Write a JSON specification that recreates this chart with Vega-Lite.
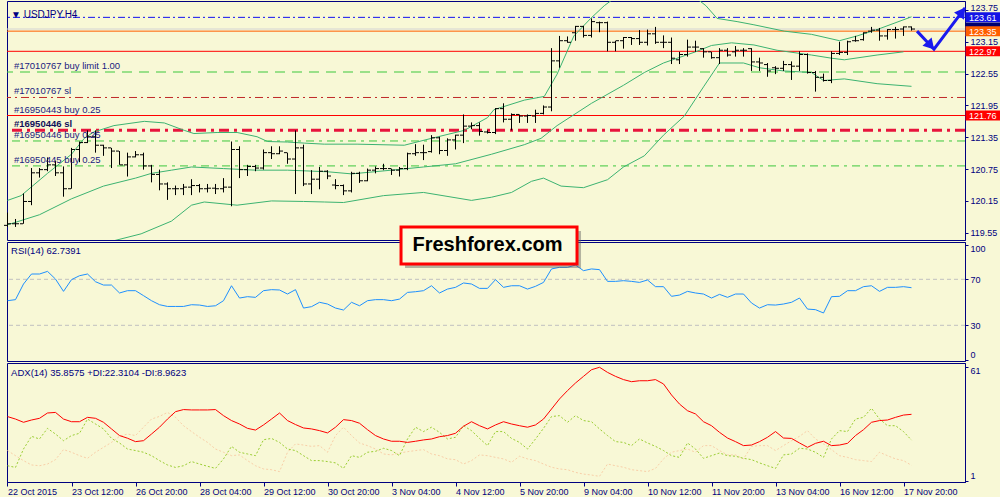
{
"$schema":"https://vega.github.io/schema/vega-lite/v6.json",
"background":"#f8f8d6",
"padding":{"left":3,"top":0,"right":0,"bottom":0},
"spacing":2,
"bounds":"flush",
"config":{
 "view":{"stroke":"#000080","strokeWidth":1},
 "font":"Liberation Sans",
 "axis":{"labelFont":"Liberation Sans","labelFontSize":9,"labelColor":"#000080","tickColor":"#000080","domainColor":"#000080","grid":false,"tickSize":3,"labelPadding":2}
},
"datasets":{
"bars":[
{"i":0,"o":119.69,"h":119.93,"l":119.66,"c":119.72,"rsi":51.4,"adx":34.7,"pdi":8.8,"mdi":16.8},
{"i":1,"o":119.72,"h":119.81,"l":119.66,"c":119.72,"rsi":52.3,"adx":33.4,"pdi":7.9,"mdi":14.1},
{"i":2,"o":119.72,"h":120.29,"l":119.72,"c":120.14,"rsi":65.9,"adx":31.7,"pdi":17.6,"mdi":11.5},
{"i":3,"o":120.14,"h":120.77,"l":120.07,"c":120.68,"rsi":74.6,"adx":32.9,"pdi":24.3,"mdi":9.2},
{"i":4,"o":120.68,"h":120.77,"l":120.59,"c":120.74,"rsi":74.6,"adx":33.8,"pdi":22.9,"mdi":8.8},
{"i":5,"o":120.74,"h":120.97,"l":120.71,"c":120.83,"rsi":76.9,"adx":36.6,"pdi":28.5,"mdi":9.7},
{"i":6,"o":120.83,"h":120.91,"l":120.62,"c":120.68,"rsi":70.2,"adx":36.9,"pdi":25.5,"mdi":12.0},
{"i":7,"o":120.68,"h":120.80,"l":120.23,"c":120.38,"rsi":59.5,"adx":33.4,"pdi":22.0,"mdi":17.3},
{"i":8,"o":120.38,"h":121.15,"l":120.38,"c":121.12,"rsi":69.7,"adx":32.0,"pdi":24.7,"mdi":15.9},
{"i":9,"o":121.12,"h":121.27,"l":120.88,"c":121.25,"rsi":73.1,"adx":32.0,"pdi":25.9,"mdi":14.1},
{"i":10,"o":121.25,"h":121.48,"l":121.24,"c":121.36,"rsi":74.6,"adx":34.3,"pdi":33.4,"mdi":12.7},
{"i":11,"o":121.36,"h":121.48,"l":121.06,"c":121.20,"rsi":67.9,"adx":33.8,"pdi":30.8,"mdi":15.9},
{"i":12,"o":121.20,"h":121.21,"l":121.00,"c":121.15,"rsi":65.0,"adx":31.7,"pdi":28.2,"mdi":18.5},
{"i":13,"o":121.15,"h":121.15,"l":120.77,"c":121.09,"rsi":65.0,"adx":28.2,"pdi":23.2,"mdi":21.1},
{"i":14,"o":121.09,"h":121.09,"l":120.83,"c":120.83,"rsi":58.1,"adx":24.7,"pdi":20.8,"mdi":24.3},
{"i":15,"o":120.83,"h":121.06,"l":120.61,"c":120.98,"rsi":60.1,"adx":23.3,"pdi":17.6,"mdi":25.5},
{"i":16,"o":120.98,"h":121.09,"l":120.97,"c":121.02,"rsi":60.1,"adx":21.5,"pdi":16.8,"mdi":24.7},
{"i":17,"o":121.02,"h":121.06,"l":120.74,"c":120.81,"rsi":55.8,"adx":22.0,"pdi":15.9,"mdi":29.1},
{"i":18,"o":120.81,"h":120.83,"l":120.50,"c":120.65,"rsi":51.4,"adx":25.5,"pdi":14.1,"mdi":33.4},
{"i":19,"o":120.65,"h":120.74,"l":120.35,"c":120.47,"rsi":47.9,"adx":29.1,"pdi":11.5,"mdi":34.8},
{"i":20,"o":120.47,"h":120.50,"l":120.17,"c":120.38,"rsi":46.4,"adx":33.4,"pdi":9.2,"mdi":36.9},
{"i":21,"o":120.38,"h":120.44,"l":120.26,"c":120.38,"rsi":46.4,"adx":37.3,"pdi":7.9,"mdi":34.3},
{"i":22,"o":120.38,"h":120.47,"l":120.26,"c":120.41,"rsi":46.4,"adx":38.4,"pdi":8.8,"mdi":29.9},
{"i":23,"o":120.41,"h":120.56,"l":120.26,"c":120.44,"rsi":47.9,"adx":38.2,"pdi":11.0,"mdi":26.8},
{"i":24,"o":120.44,"h":120.47,"l":120.31,"c":120.38,"rsi":47.6,"adx":38.2,"pdi":9.7,"mdi":23.8},
{"i":25,"o":120.38,"h":120.47,"l":120.31,"c":120.39,"rsi":46.4,"adx":38.2,"pdi":8.5,"mdi":21.1},
{"i":26,"o":120.39,"h":120.47,"l":120.28,"c":120.38,"rsi":47.0,"adx":38.4,"pdi":7.4,"mdi":17.6},
{"i":27,"o":120.38,"h":120.58,"l":120.31,"c":120.41,"rsi":51.4,"adx":35.2,"pdi":12.4,"mdi":15.9},
{"i":28,"o":120.41,"h":121.27,"l":120.05,"c":121.12,"rsi":64.4,"adx":32.6,"pdi":19.0,"mdi":14.1},
{"i":29,"o":121.12,"h":121.18,"l":120.58,"c":120.74,"rsi":53.7,"adx":30.8,"pdi":15.9,"mdi":14.5},
{"i":30,"o":120.74,"h":120.83,"l":120.62,"c":120.80,"rsi":54.9,"adx":28.5,"pdi":15.0,"mdi":11.5},
{"i":31,"o":120.80,"h":120.83,"l":120.71,"c":120.77,"rsi":54.3,"adx":27.6,"pdi":14.1,"mdi":8.8},
{"i":32,"o":120.77,"h":121.12,"l":120.74,"c":121.06,"rsi":60.1,"adx":30.3,"pdi":22.5,"mdi":7.1},
{"i":33,"o":121.06,"h":121.18,"l":120.94,"c":121.04,"rsi":61.0,"adx":33.4,"pdi":23.2,"mdi":6.7},
{"i":34,"o":121.04,"h":121.18,"l":121.03,"c":121.09,"rsi":60.7,"adx":36.6,"pdi":21.1,"mdi":5.7},
{"i":35,"o":121.06,"h":121.06,"l":120.85,"c":120.94,"rsi":57.2,"adx":32.6,"pdi":17.6,"mdi":15.9},
{"i":36,"o":120.94,"h":121.48,"l":120.28,"c":121.15,"rsi":61.0,"adx":30.5,"pdi":16.8,"mdi":20.3},
{"i":37,"o":121.15,"h":121.21,"l":120.43,"c":120.47,"rsi":45.0,"adx":28.7,"pdi":14.1,"mdi":19.7},
{"i":38,"o":120.47,"h":120.73,"l":120.28,"c":120.56,"rsi":46.2,"adx":28.2,"pdi":11.5,"mdi":19.0},
{"i":39,"o":120.56,"h":120.79,"l":120.37,"c":120.71,"rsi":50.0,"adx":27.3,"pdi":11.5,"mdi":19.4},
{"i":40,"o":120.71,"h":120.73,"l":120.56,"c":120.62,"rsi":48.5,"adx":26.1,"pdi":11.0,"mdi":15.9},
{"i":41,"o":120.45,"h":120.56,"l":120.37,"c":120.44,"rsi":45.0,"adx":29.1,"pdi":10.3,"mdi":24.7},
{"i":42,"o":120.44,"h":120.46,"l":120.26,"c":120.34,"rsi":43.3,"adx":33.1,"pdi":7.4,"mdi":29.1},
{"i":43,"o":120.34,"h":120.70,"l":120.31,"c":120.67,"rsi":50.0,"adx":32.6,"pdi":14.1,"mdi":24.7},
{"i":44,"o":120.67,"h":120.70,"l":120.49,"c":120.53,"rsi":47.0,"adx":31.2,"pdi":13.2,"mdi":20.8},
{"i":45,"o":120.53,"h":120.76,"l":120.52,"c":120.73,"rsi":51.4,"adx":27.8,"pdi":15.9,"mdi":19.4},
{"i":46,"o":120.73,"h":120.80,"l":120.67,"c":120.76,"rsi":52.3,"adx":24.7,"pdi":16.4,"mdi":17.6},
{"i":47,"o":120.76,"h":120.85,"l":120.73,"c":120.76,"rsi":52.3,"adx":22.9,"pdi":18.0,"mdi":15.0},
{"i":48,"o":120.76,"h":120.76,"l":120.64,"c":120.73,"rsi":51.4,"adx":21.7,"pdi":16.8,"mdi":14.5},
{"i":49,"o":120.73,"h":120.79,"l":120.61,"c":120.76,"rsi":52.8,"adx":21.7,"pdi":14.1,"mdi":15.5},
{"i":50,"o":120.76,"h":121.06,"l":120.73,"c":121.04,"rsi":58.6,"adx":21.1,"pdi":22.9,"mdi":16.2},
{"i":51,"o":121.04,"h":121.22,"l":121.00,"c":121.06,"rsi":59.2,"adx":21.7,"pdi":29.1,"mdi":16.8},
{"i":52,"o":121.06,"h":121.21,"l":120.92,"c":121.06,"rsi":60.1,"adx":22.4,"pdi":26.8,"mdi":17.3},
{"i":53,"o":121.08,"h":121.39,"l":121.06,"c":121.34,"rsi":64.4,"adx":22.9,"pdi":29.1,"mdi":15.0},
{"i":54,"o":121.34,"h":121.36,"l":121.03,"c":121.10,"rsi":58.1,"adx":24.1,"pdi":26.4,"mdi":14.1},
{"i":55,"o":121.10,"h":121.33,"l":121.00,"c":121.30,"rsi":61.5,"adx":24.7,"pdi":22.9,"mdi":12.4},
{"i":56,"o":121.30,"h":121.40,"l":121.12,"c":121.39,"rsi":63.0,"adx":25.9,"pdi":23.8,"mdi":12.0},
{"i":57,"o":121.39,"h":121.78,"l":121.24,"c":121.56,"rsi":66.8,"adx":29.6,"pdi":29.9,"mdi":9.7},
{"i":58,"o":121.56,"h":121.63,"l":121.50,"c":121.57,"rsi":65.9,"adx":32.0,"pdi":27.3,"mdi":11.5},
{"i":59,"o":121.57,"h":121.63,"l":121.38,"c":121.46,"rsi":62.1,"adx":29.9,"pdi":23.2,"mdi":14.5},
{"i":60,"o":121.45,"h":121.48,"l":121.42,"c":121.44,"rsi":62.1,"adx":28.2,"pdi":19.4,"mdi":14.1},
{"i":61,"o":121.44,"h":121.90,"l":121.41,"c":121.89,"rsi":69.7,"adx":30.3,"pdi":26.8,"mdi":13.2},
{"i":62,"o":121.89,"h":121.99,"l":121.63,"c":121.69,"rsi":63.0,"adx":32.0,"pdi":26.8,"mdi":12.4},
{"i":63,"o":121.69,"h":121.80,"l":121.48,"c":121.78,"rsi":64.4,"adx":30.8,"pdi":23.2,"mdi":10.6},
{"i":64,"o":121.78,"h":121.78,"l":121.62,"c":121.75,"rsi":64.4,"adx":29.9,"pdi":21.1,"mdi":13.8},
{"i":65,"o":121.75,"h":121.78,"l":121.62,"c":121.76,"rsi":61.5,"adx":29.1,"pdi":17.6,"mdi":12.4},
{"i":66,"o":121.75,"h":121.87,"l":121.62,"c":121.80,"rsi":63.9,"adx":30.3,"pdi":22.9,"mdi":11.5},
{"i":67,"o":121.80,"h":121.95,"l":121.78,"c":121.92,"rsi":67.3,"adx":33.4,"pdi":28.5,"mdi":9.7},
{"i":68,"o":121.92,"h":123.03,"l":121.84,"c":122.79,"rsi":79.0,"adx":38.7,"pdi":34.7,"mdi":8.0},
{"i":69,"o":122.79,"h":123.26,"l":122.66,"c":123.17,"rsi":80.4,"adx":44.0,"pdi":35.2,"mdi":7.1},
{"i":70,"o":123.17,"h":123.25,"l":123.13,"c":123.14,"rsi":80.4,"adx":48.4,"pdi":31.7,"mdi":6.7},
{"i":71,"o":123.32,"h":123.45,"l":123.17,"c":123.44,"rsi":82.4,"adx":52.4,"pdi":35.2,"mdi":5.3},
{"i":72,"o":123.44,"h":123.45,"l":123.23,"c":123.27,"rsi":77.5,"adx":55.9,"pdi":32.6,"mdi":4.4},
{"i":73,"o":123.27,"h":123.59,"l":123.23,"c":123.53,"rsi":79.0,"adx":59.4,"pdi":32.0,"mdi":3.9},
{"i":74,"o":123.51,"h":123.53,"l":123.33,"c":123.51,"rsi":78.4,"adx":60.7,"pdi":28.2,"mdi":3.2},
{"i":75,"o":123.51,"h":123.53,"l":122.97,"c":123.14,"rsi":68.2,"adx":58.0,"pdi":24.7,"mdi":9.7},
{"i":76,"o":123.14,"h":123.17,"l":122.97,"c":123.17,"rsi":68.2,"adx":55.9,"pdi":21.5,"mdi":8.8},
{"i":77,"o":123.17,"h":123.24,"l":123.02,"c":123.23,"rsi":68.8,"adx":54.2,"pdi":21.1,"mdi":8.0},
{"i":78,"o":123.23,"h":123.24,"l":123.09,"c":123.21,"rsi":68.2,"adx":53.1,"pdi":19.4,"mdi":6.7},
{"i":79,"o":123.21,"h":123.37,"l":123.09,"c":123.14,"rsi":67.3,"adx":53.6,"pdi":22.9,"mdi":6.2},
{"i":80,"o":123.14,"h":123.38,"l":123.08,"c":123.30,"rsi":69.4,"adx":53.6,"pdi":20.8,"mdi":5.7},
{"i":81,"o":123.30,"h":123.43,"l":123.11,"c":123.14,"rsi":63.6,"adx":54.2,"pdi":19.0,"mdi":7.4},
{"i":82,"o":123.14,"h":123.27,"l":123.03,"c":123.14,"rsi":63.6,"adx":51.9,"pdi":16.8,"mdi":12.4},
{"i":83,"o":123.14,"h":123.23,"l":122.73,"c":122.84,"rsi":55.2,"adx":46.1,"pdi":14.1,"mdi":15.9},
{"i":84,"o":122.81,"h":122.96,"l":122.73,"c":122.91,"rsi":56.3,"adx":41.3,"pdi":13.2,"mdi":16.8},
{"i":85,"o":122.91,"h":123.19,"l":122.87,"c":123.05,"rsi":59.5,"adx":37.8,"pdi":20.8,"mdi":17.6},
{"i":86,"o":123.05,"h":123.17,"l":122.96,"c":123.05,"rsi":58.1,"adx":36.1,"pdi":17.6,"mdi":15.9},
{"i":87,"o":123.02,"h":123.03,"l":122.85,"c":122.96,"rsi":57.2,"adx":32.0,"pdi":12.7,"mdi":19.4},
{"i":88,"o":122.96,"h":122.96,"l":122.83,"c":122.85,"rsi":53.7,"adx":29.9,"pdi":14.1,"mdi":19.4},
{"i":89,"o":122.85,"h":123.03,"l":122.73,"c":122.99,"rsi":56.9,"adx":26.4,"pdi":15.5,"mdi":16.8},
{"i":90,"o":122.99,"h":123.03,"l":122.87,"c":122.90,"rsi":54.3,"adx":23.4,"pdi":14.1,"mdi":14.5},
{"i":91,"o":122.96,"h":123.07,"l":122.87,"c":122.99,"rsi":57.2,"adx":21.5,"pdi":13.8,"mdi":14.5},
{"i":92,"o":122.99,"h":123.03,"l":122.87,"c":122.99,"rsi":57.2,"adx":19.4,"pdi":12.7,"mdi":12.4},
{"i":93,"o":123.02,"h":123.03,"l":122.60,"c":122.77,"rsi":49.4,"adx":19.7,"pdi":12.0,"mdi":19.0},
{"i":94,"o":122.77,"h":122.85,"l":122.60,"c":122.75,"rsi":45.0,"adx":21.5,"pdi":10.3,"mdi":19.4},
{"i":95,"o":122.72,"h":122.75,"l":122.49,"c":122.60,"rsi":47.9,"adx":23.8,"pdi":8.8,"mdi":19.4},
{"i":96,"o":122.66,"h":122.69,"l":122.54,"c":122.65,"rsi":47.6,"adx":26.8,"pdi":7.4,"mdi":16.8},
{"i":97,"o":122.65,"h":122.79,"l":122.60,"c":122.72,"rsi":48.5,"adx":23.4,"pdi":14.5,"mdi":19.4},
{"i":98,"o":122.72,"h":122.78,"l":122.43,"c":122.69,"rsi":50.0,"adx":23.2,"pdi":15.0,"mdi":22.0},
{"i":99,"o":122.69,"h":122.97,"l":122.60,"c":122.91,"rsi":53.7,"adx":20.8,"pdi":18.0,"mdi":24.3},
{"i":100,"o":122.91,"h":122.93,"l":122.55,"c":122.57,"rsi":44.1,"adx":18.5,"pdi":17.6,"mdi":27.3},
{"i":101,"o":122.57,"h":122.60,"l":122.21,"c":122.48,"rsi":43.6,"adx":20.6,"pdi":15.9,"mdi":22.9},
{"i":102,"o":122.48,"h":122.55,"l":122.40,"c":122.42,"rsi":40.7,"adx":21.7,"pdi":13.2,"mdi":20.3},
{"i":103,"o":122.42,"h":122.97,"l":122.37,"c":122.93,"rsi":54.9,"adx":19.4,"pdi":22.9,"mdi":17.3},
{"i":104,"o":122.93,"h":123.15,"l":122.90,"c":122.95,"rsi":55.2,"adx":19.7,"pdi":27.3,"mdi":14.1},
{"i":105,"o":122.95,"h":123.17,"l":122.90,"c":123.15,"rsi":60.1,"adx":20.6,"pdi":26.8,"mdi":13.2},
{"i":106,"o":123.17,"h":123.26,"l":123.15,"c":123.17,"rsi":60.1,"adx":24.7,"pdi":33.4,"mdi":12.0},
{"i":107,"o":123.19,"h":123.33,"l":123.17,"c":123.32,"rsi":63.6,"adx":27.8,"pdi":34.3,"mdi":11.5},
{"i":108,"o":123.35,"h":123.43,"l":123.32,"c":123.37,"rsi":64.4,"adx":31.7,"pdi":39.1,"mdi":11.0},
{"i":109,"o":123.37,"h":123.41,"l":123.17,"c":123.26,"rsi":59.5,"adx":32.6,"pdi":33.4,"mdi":15.9},
{"i":110,"o":123.26,"h":123.39,"l":123.19,"c":123.38,"rsi":63.0,"adx":32.9,"pdi":29.9,"mdi":14.1},
{"i":111,"o":123.38,"h":123.43,"l":123.21,"c":123.38,"rsi":63.0,"adx":34.3,"pdi":29.9,"mdi":12.4},
{"i":112,"o":123.39,"h":123.44,"l":123.26,"c":123.43,"rsi":63.6,"adx":35.5,"pdi":26.8,"mdi":11.5},
{"i":113,"o":123.43,"h":123.44,"l":123.36,"c":123.39,"rsi":62.7,"adx":35.9,"pdi":22.3,"mdi":9.0}
],
"bands":[
{"band":"upper","i":0,"p":120.16},{"band":"upper","i":1.7,"p":120.25},{"band":"upper","i":5,"p":120.67},{"band":"upper","i":8,"p":121.03},{"band":"upper","i":9.6,"p":121.33},{"band":"upper","i":10.8,"p":121.45},{"band":"upper","i":13.3,"p":121.57},{"band":"upper","i":17.1,"p":121.65},{"band":"upper","i":19.6,"p":121.62},{"band":"upper","i":22.1,"p":121.48},{"band":"upper","i":23.3,"p":121.42},{"band":"upper","i":26.2,"p":121.44},{"band":"upper","i":28.7,"p":121.44},{"band":"upper","i":31.2,"p":121.36},{"band":"upper","i":32.5,"p":121.27},{"band":"upper","i":35,"p":121.26},{"band":"upper","i":37.1,"p":121.24},{"band":"upper","i":39.6,"p":121.22},{"band":"upper","i":43.7,"p":121.22},{"band":"upper","i":49.6,"p":121.2},{"band":"upper","i":53,"p":121.33},{"band":"upper","i":57.1,"p":121.48},{"band":"upper","i":60,"p":121.72},{"band":"upper","i":60.8,"p":121.87},{"band":"upper","i":64.6,"p":122.05},{"band":"upper","i":67.1,"p":122.12},{"band":"upper","i":68.7,"p":122.54},{"band":"upper","i":70.8,"p":123.26},{"band":"upper","i":72.9,"p":123.59},{"band":"upper","i":74.6,"p":123.83},{"band":"upper","i":77,"p":124.1},{"band":"upper","i":81,"p":124.3},{"band":"upper","i":85,"p":124.1},{"band":"upper","i":87.3,"p":123.83},{"band":"upper","i":88.7,"p":123.59},{"band":"upper","i":91.2,"p":123.53},{"band":"upper","i":93.3,"p":123.47},{"band":"upper","i":97.1,"p":123.35},{"band":"upper","i":100.5,"p":123.29},{"band":"upper","i":104,"p":123.17},{"band":"upper","i":106.2,"p":123.26},{"band":"upper","i":108.7,"p":123.38},{"band":"upper","i":113,"p":123.62},
{"band":"mid","i":0,"p":119.7},{"band":"mid","i":4,"p":119.89},{"band":"mid","i":8,"p":120.19},{"band":"mid","i":12,"p":120.43},{"band":"mid","i":16,"p":120.58},{"band":"mid","i":18,"p":120.67},{"band":"mid","i":20.5,"p":120.73},{"band":"mid","i":23,"p":120.79},{"band":"mid","i":27,"p":120.76},{"band":"mid","i":31,"p":120.73},{"band":"mid","i":35,"p":120.73},{"band":"mid","i":40,"p":120.7},{"band":"mid","i":43,"p":120.66},{"band":"mid","i":48,"p":120.73},{"band":"mid","i":52,"p":120.79},{"band":"mid","i":56,"p":120.85},{"band":"mid","i":60.5,"p":121.03},{"band":"mid","i":64.6,"p":121.21},{"band":"mid","i":66.7,"p":121.33},{"band":"mid","i":68.7,"p":121.57},{"band":"mid","i":73,"p":121.99},{"band":"mid","i":77,"p":122.33},{"band":"mid","i":79.6,"p":122.57},{"band":"mid","i":82,"p":122.75},{"band":"mid","i":86,"p":122.96},{"band":"mid","i":88,"p":123.08},{"band":"mid","i":90.5,"p":123.13},{"band":"mid","i":93.3,"p":123.09},{"band":"mid","i":96.2,"p":122.99},{"band":"mid","i":100.5,"p":122.9},{"band":"mid","i":103,"p":122.84},{"band":"mid","i":104.6,"p":122.81},{"band":"mid","i":108.7,"p":122.9},{"band":"mid","i":112,"p":122.96},
{"band":"lower","i":0,"p":119.0},{"band":"lower","i":6,"p":119.15},{"band":"lower","i":12,"p":119.35},{"band":"lower","i":16.7,"p":119.53},{"band":"lower","i":20.5,"p":119.77},{"band":"lower","i":23,"p":120.07},{"band":"lower","i":24.6,"p":120.13},{"band":"lower","i":28.7,"p":120.07},{"band":"lower","i":33,"p":120.15},{"band":"lower","i":37,"p":120.14},{"band":"lower","i":39.6,"p":120.13},{"band":"lower","i":42,"p":120.12},{"band":"lower","i":47,"p":120.25},{"band":"lower","i":52,"p":120.31},{"band":"lower","i":58,"p":120.16},{"band":"lower","i":60.5,"p":120.22},{"band":"lower","i":63,"p":120.31},{"band":"lower","i":65.5,"p":120.52},{"band":"lower","i":67,"p":120.58},{"band":"lower","i":69.2,"p":120.43},{"band":"lower","i":72,"p":120.4},{"band":"lower","i":75,"p":120.55},{"band":"lower","i":77,"p":120.79},{"band":"lower","i":79.6,"p":121.0},{"band":"lower","i":82,"p":121.39},{"band":"lower","i":84.6,"p":121.75},{"band":"lower","i":87,"p":122.3},{"band":"lower","i":89,"p":122.75},{"band":"lower","i":92,"p":122.75},{"band":"lower","i":94,"p":122.66},{"band":"lower","i":97,"p":122.6},{"band":"lower","i":100.5,"p":122.57},{"band":"lower","i":102,"p":122.42},{"band":"lower","i":104.6,"p":122.45},{"band":"lower","i":108.7,"p":122.36},{"band":"lower","i":113,"p":122.31}
],
"levels":[
{"name":"l123.61","p":123.61},{"name":"ask","p":123.39},{"name":"last","p":123.35},{"name":"tp","p":122.97},
{"name":"bl17010767","p":122.58},{"name":"sl17010767","p":122.10},{"name":"b16950443","p":121.76},
{"name":"sl16950446","p":121.48},{"name":"b16950446","p":121.28},{"name":"b16950445","p":120.81}
],
"notes":[
{"text":"#17010767 buy limit 1.00","p":122.58},{"text":"#17010767 sl","p":122.10},{"text":"#16950443 buy 0.25","p":121.76},
{"text":"#16950446 sl","p":121.48},{"text":"#16950446 buy 0.25","p":121.28},{"text":"#16950445 buy 0.25","p":120.81}
],
"boxes":[
{"label":"123.42","p":123.42},{"label":"123.61","p":123.61},{"label":"123.35","p":123.35},{"label":"122.97","p":122.97},{"label":"121.76","p":121.76}
],
"arrow":[{"s":1,"i":113.69,"p":123.35},{"s":2,"i":115.81,"p":123.01},{"s":3,"i":119.69,"p":123.79}]
},
"vconcat":[
{"width":958,"height":239,
 "layer":[
  {"data":{"name":"levels"},"transform":[{"filter":"datum.name != 'sl16950446'"}],
   "mark":{"type":"rule","strokeWidth":1},
   "encoding":{
    "y":{"field":"p","type":"quantitative","scale":{"domain":[119.508,123.824],"nice":false,"zero":false},
         "axis":{"orient":"right","values":[119.55,120.15,120.75,121.35,121.95,122.55,123.15,123.75],"format":".2f","title":null,"labelOffset":{"condition":{"test":"datum.value == 123.75","value":-2},"value":0}}},
    "color":{"field":"name","type":"nominal","legend":null,"scale":{"domain":["l123.61","ask","last","tp","bl17010767","sl17010767","b16950443","b16950446","b16950445"],"range":["#1010f0","#d4d4d4","#ff5e00","#ff0000","#3cc83c","#c02828","#ff0000","#3cc83c","#3cc83c"]}},
    "strokeDash":{"field":"name","type":"nominal","legend":null,"scale":{"domain":["l123.61","ask","last","tp","bl17010767","sl17010767","b16950443","b16950446","b16950445"],"range":[[7,3,2,3],[1,0],[1,0],[1,0],[10,7],[8,4,2,4],[1,0],[8,5,3,5],[8,5,3,5]]}}
   }},
  {"data":{"name":"levels"},"transform":[{"filter":"datum.name == 'sl16950446'"}],
   "mark":{"type":"rule","strokeWidth":3,"color":"#e8143c","strokeDash":[10,5,3,5]},
   "encoding":{"y":{"field":"p","type":"quantitative","scale":{"domain":[119.508,123.824],"nice":false,"zero":false},"axis":{"orient":"right","values":[119.55,120.15,120.75,121.35,121.95,122.55,123.15,123.75],"format":".2f","title":null,"labelOffset":{"condition":{"test":"datum.value == 123.75","value":-2},"value":0}}}}},
  {"data":{"name":"bands"},"mark":{"type":"line","color":"#3cb371","strokeWidth":1,"clip":true},
   "encoding":{
    "x":{"field":"i","type":"quantitative","scale":{"domain":[-0.0625,119.6875],"nice":false,"zero":false},"axis":null},
    "y":{"field":"p","type":"quantitative","scale":{"domain":[119.508,123.824],"nice":false,"zero":false},"axis":{"orient":"right","values":[119.55,120.15,120.75,121.35,121.95,122.55,123.15,123.75],"format":".2f","title":null,"labelOffset":{"condition":{"test":"datum.value == 123.75","value":-2},"value":0}}},
    "detail":{"field":"band","type":"nominal"}}},
  {"data":{"name":"bars"},"mark":{"type":"rule","color":"#000000","strokeWidth":1},
   "encoding":{
    "x":{"field":"i","type":"quantitative","scale":{"domain":[-0.0625,119.6875],"nice":false,"zero":false},"axis":null},
    "y":{"field":"l","type":"quantitative","scale":{"domain":[119.508,123.824],"nice":false,"zero":false},"axis":{"orient":"right","values":[119.55,120.15,120.75,121.35,121.95,122.55,123.15,123.75],"format":".2f","title":null,"labelOffset":{"condition":{"test":"datum.value == 123.75","value":-2},"value":0}}},
    "y2":{"field":"h"}}},
  {"data":{"name":"bars"},"mark":{"type":"tick","orient":"horizontal","size":3,"thickness":1,"xOffset":-2,"color":"#000000","opacity":1},
   "encoding":{
    "x":{"field":"i","type":"quantitative","scale":{"domain":[-0.0625,119.6875],"nice":false,"zero":false},"axis":null},
    "y":{"field":"o","type":"quantitative","scale":{"domain":[119.508,123.824],"nice":false,"zero":false},"axis":{"orient":"right","values":[119.55,120.15,120.75,121.35,121.95,122.55,123.15,123.75],"format":".2f","title":null,"labelOffset":{"condition":{"test":"datum.value == 123.75","value":-2},"value":0}}}}},
  {"data":{"name":"bars"},"mark":{"type":"tick","orient":"horizontal","size":3,"thickness":1,"xOffset":2,"color":"#000000","opacity":1},
   "encoding":{
    "x":{"field":"i","type":"quantitative","scale":{"domain":[-0.0625,119.6875],"nice":false,"zero":false},"axis":null},
    "y":{"field":"c","type":"quantitative","scale":{"domain":[119.508,123.824],"nice":false,"zero":false},"axis":{"orient":"right","values":[119.55,120.15,120.75,121.35,121.95,122.55,123.15,123.75],"format":".2f","title":null,"labelOffset":{"condition":{"test":"datum.value == 123.75","value":-2},"value":0}}}}},
  {"data":{"name":"notes"},"transform":[{"filter":"datum.text != '#16950446 sl'"}],
   "mark":{"type":"text","align":"left","baseline":"bottom","dy":-1,"fontSize":9.5,"color":"#1a1a80"},
   "encoding":{
    "x":{"datum":0.81,"type":"quantitative","scale":{"domain":[-0.0625,119.6875],"nice":false,"zero":false},"axis":null},
    "y":{"field":"p","type":"quantitative","scale":{"domain":[119.508,123.824],"nice":false,"zero":false},"axis":{"orient":"right","values":[119.55,120.15,120.75,121.35,121.95,122.55,123.15,123.75],"format":".2f","title":null,"labelOffset":{"condition":{"test":"datum.value == 123.75","value":-2},"value":0}}},
    "text":{"field":"text"}}},
  {"data":{"name":"notes"},"transform":[{"filter":"datum.text == '#16950446 sl'"}],
   "mark":{"type":"text","align":"left","baseline":"bottom","dy":-1,"fontSize":9.5,"fontWeight":"bold","color":"#10105a"},
   "encoding":{
    "x":{"datum":0.81,"type":"quantitative","scale":{"domain":[-0.0625,119.6875],"nice":false,"zero":false},"axis":null},
    "y":{"field":"p","type":"quantitative","scale":{"domain":[119.508,123.824],"nice":false,"zero":false},"axis":{"orient":"right","values":[119.55,120.15,120.75,121.35,121.95,122.55,123.15,123.75],"format":".2f","title":null,"labelOffset":{"condition":{"test":"datum.value == 123.75","value":-2},"value":0}}},
    "text":{"field":"text"}}},
  {"data":{"values":[{"t":"▼ USDJPY.H4"}]},"mark":{"type":"text","align":"left","baseline":"middle","fontSize":10,"color":"#000080"},
   "encoding":{
    "x":{"datum":0.44,"type":"quantitative","scale":{"domain":[-0.0625,119.6875],"nice":false,"zero":false},"axis":null},
    "y":{"datum":123.66,"type":"quantitative","scale":{"domain":[119.508,123.824],"nice":false,"zero":false},"axis":{"orient":"right","values":[119.55,120.15,120.75,121.35,121.95,122.55,123.15,123.75],"format":".2f","title":null,"labelOffset":{"condition":{"test":"datum.value == 123.75","value":-2},"value":0}}},
    "text":{"field":"t"}}},
  {"data":{"name":"boxes"},"mark":{"type":"bar","orient":"horizontal","height":10,"clip":false},
   "encoding":{
    "x":{"datum":119.75,"type":"quantitative","scale":{"domain":[-0.0625,119.6875],"nice":false,"zero":false},"axis":null},
    "x2":{"datum":124.9},
    "y":{"field":"p","type":"quantitative","scale":{"domain":[119.508,123.824],"nice":false,"zero":false},"axis":{"orient":"right","values":[119.55,120.15,120.75,121.35,121.95,122.55,123.15,123.75],"format":".2f","title":null,"labelOffset":{"condition":{"test":"datum.value == 123.75","value":-2},"value":0}}},
    "fill":{"field":"label","type":"nominal","legend":null,"scale":{"domain":["123.42","123.61","123.35","122.97","121.76"],"range":["#000070","#1414e6","#ff5e00","#ff0000","#ff0000"]}}}},
  {"data":{"name":"boxes"},"transform":[{"filter":"datum.label != '123.42'"}],
   "mark":{"type":"text","align":"left","baseline":"middle","fontSize":9,"dy":0.5,"color":"#ffffff"},
   "encoding":{
    "x":{"datum":120.2,"type":"quantitative","scale":{"domain":[-0.0625,119.6875],"nice":false,"zero":false},"axis":null},
    "y":{"field":"p","type":"quantitative","scale":{"domain":[119.508,123.824],"nice":false,"zero":false},"axis":{"orient":"right","values":[119.55,120.15,120.75,121.35,121.95,122.55,123.15,123.75],"format":".2f","title":null,"labelOffset":{"condition":{"test":"datum.value == 123.75","value":-2},"value":0}}},
    "text":{"field":"label"}}},
  {"data":{"name":"arrow"},"mark":{"type":"line","color":"#1a1aee","strokeWidth":3,"clip":false},
   "encoding":{
    "x":{"field":"i","type":"quantitative","scale":{"domain":[-0.0625,119.6875],"nice":false,"zero":false},"axis":null},
    "y":{"field":"p","type":"quantitative","scale":{"domain":[119.508,123.824],"nice":false,"zero":false},"axis":{"orient":"right","values":[119.55,120.15,120.75,121.35,121.95,122.55,123.15,123.75],"format":".2f","title":null,"labelOffset":{"condition":{"test":"datum.value == 123.75","value":-2},"value":0}}},
    "order":{"field":"s"}}},
  {"data":{"values":[{"i":115.39,"p":123.078}]},"mark":{"type":"point","shape":"triangle-up","size":150,"filled":true,"opacity":1,"color":"#1a1aee","angle":138,"clip":false},
   "encoding":{
    "x":{"field":"i","type":"quantitative","scale":{"domain":[-0.0625,119.6875],"nice":false,"zero":false},"axis":null},
    "y":{"field":"p","type":"quantitative","scale":{"domain":[119.508,123.824],"nice":false,"zero":false},"axis":{"orient":"right","values":[119.55,120.15,120.75,121.35,121.95,122.55,123.15,123.75],"format":".2f","title":null,"labelOffset":{"condition":{"test":"datum.value == 123.75","value":-2},"value":0}}}}},
  {"data":{"values":[{"i":119.33,"p":123.714}]},"mark":{"type":"point","shape":"triangle-up","size":150,"filled":true,"opacity":1,"color":"#1a1aee","angle":36,"clip":false},
   "encoding":{
    "x":{"field":"i","type":"quantitative","scale":{"domain":[-0.0625,119.6875],"nice":false,"zero":false},"axis":null},
    "y":{"field":"p","type":"quantitative","scale":{"domain":[119.508,123.824],"nice":false,"zero":false},"axis":{"orient":"right","values":[119.55,120.15,120.75,121.35,121.95,122.55,123.15,123.75],"format":".2f","title":null,"labelOffset":{"condition":{"test":"datum.value == 123.75","value":-2},"value":0}}}}}
 ]},
{"width":958,"height":119,
 "layer":[
  {"data":{"values":[{"v":30},{"v":70}]},"mark":{"type":"rule","color":"#c0c0c0","strokeDash":[4,3]},
   "encoding":{"y":{"field":"v","type":"quantitative","scale":{"domain":[-1.04,102.43],"nice":false,"zero":false},
     "axis":{"orient":"right","values":[0,30,70,100],"labelFlush":5,"title":null}}}},
  {"data":{"name":"bars"},"mark":{"type":"line","color":"#1e90ff","strokeWidth":1},
   "encoding":{
    "x":{"field":"i","type":"quantitative","scale":{"domain":[-0.0625,119.6875],"nice":false,"zero":false},"axis":null},
    "y":{"field":"rsi","type":"quantitative","scale":{"domain":[-1.04,102.43],"nice":false,"zero":false},"axis":{"orient":"right","values":[0,30,70,100],"labelFlush":5,"title":null}}}},
  {"data":{"values":[{"t":"RSI(14) 62.7391"}]},"mark":{"type":"text","align":"left","baseline":"middle","fontSize":9.5,"color":"#000080"},
   "encoding":{
    "x":{"datum":0.45,"type":"quantitative","scale":{"domain":[-0.0625,119.6875],"nice":false,"zero":false},"axis":null},
    "y":{"datum":94.6,"type":"quantitative","scale":{"domain":[-1.04,102.43],"nice":false,"zero":false},"axis":{"orient":"right","values":[0,30,70,100],"labelFlush":5,"title":null}},
    "text":{"field":"t"}}},
  {"data":{"values":[{"t":"Freshforex.com"}]},"mark":{"type":"rect","color":"#606060","opacity":0.45,"xOffset":4,"x2Offset":4,"yOffset":4,"y2Offset":4,"clip":false},
   "encoding":{
    "x":{"datum":49.19,"type":"quantitative","scale":{"domain":[-0.0625,119.6875],"nice":false,"zero":false},"axis":null},
    "x2":{"datum":71.19},
    "y":{"datum":115.5,"type":"quantitative","scale":{"domain":[-1.04,102.43],"nice":false,"zero":false},"axis":{"orient":"right","values":[0,30,70,100],"labelFlush":5,"title":null}},
    "y2":{"datum":83.3}}},
  {"data":{"values":[{"t":"Freshforex.com"}]},"mark":{"type":"rect","fill":"#fbfbdc","stroke":"#ff0000","strokeWidth":3,"clip":false},
   "encoding":{
    "x":{"datum":49.19,"type":"quantitative","scale":{"domain":[-0.0625,119.6875],"nice":false,"zero":false},"axis":null},
    "x2":{"datum":71.19},
    "y":{"datum":115.5,"type":"quantitative","scale":{"domain":[-1.04,102.43],"nice":false,"zero":false},"axis":{"orient":"right","values":[0,30,70,100],"labelFlush":5,"title":null}},
    "y2":{"datum":83.3}}},
  {"data":{"values":[{"t":"Freshforex.com"}]},"mark":{"type":"text","align":"center","baseline":"middle","fontSize":20,"fontWeight":"bold","color":"#000000","clip":false},
   "encoding":{
    "x":{"datum":60.0,"type":"quantitative","scale":{"domain":[-0.0625,119.6875],"nice":false,"zero":false},"axis":null},
    "y":{"datum":99.8,"type":"quantitative","scale":{"domain":[-1.04,102.43],"nice":false,"zero":false},"axis":{"orient":"right","values":[0,30,70,100],"labelFlush":5,"title":null}},
    "text":{"field":"t"}}}
 ]},
{"width":958,"height":119,
 "layer":[
  {"data":{"name":"bars"},"mark":{"type":"line","color":"#f8cfa8","strokeWidth":1,"strokeDash":[2,2]},
   "encoding":{
    "x":{"field":"i","type":"quantitative","scale":{"domain":[-0.0625,119.6875],"nice":false,"zero":false},
     "axis":{"orient":"bottom","values":[0,8,16,24,32,40,48,56,64,72,80,88,96,104,112],"labelExpr":"['22 Oct 2015','23 Oct 12:00','26 Oct 20:00','28 Oct 04:00','29 Oct 12:00','30 Oct 20:00','3 Nov 04:00','4 Nov 12:00','5 Nov 20:00','9 Nov 04:00','10 Nov 12:00','11 Nov 20:00','13 Nov 04:00','16 Nov 12:00','17 Nov 20:00'][round(datum.value/8)]","labelAlign":"left","labelFlush":false,"tickSize":4,"labelPadding":1,"labelOverlap":false,"title":null}},
    "y":{"field":"mdi","type":"quantitative","scale":{"domain":[0.22,62.95],"nice":false,"zero":false},
     "axis":{"orient":"right","values":[1,61],"labelFlush":5,"title":null}}}},
  {"data":{"name":"bars"},"mark":{"type":"line","color":"#9acd32","strokeWidth":1,"strokeDash":[2,2]},
   "encoding":{
    "x":{"field":"i","type":"quantitative","scale":{"domain":[-0.0625,119.6875],"nice":false,"zero":false},
     "axis":{"orient":"bottom","values":[0,8,16,24,32,40,48,56,64,72,80,88,96,104,112],"labelExpr":"['22 Oct 2015','23 Oct 12:00','26 Oct 20:00','28 Oct 04:00','29 Oct 12:00','30 Oct 20:00','3 Nov 04:00','4 Nov 12:00','5 Nov 20:00','9 Nov 04:00','10 Nov 12:00','11 Nov 20:00','13 Nov 04:00','16 Nov 12:00','17 Nov 20:00'][round(datum.value/8)]","labelAlign":"left","labelFlush":false,"tickSize":4,"labelPadding":1,"labelOverlap":false,"title":null}},
    "y":{"field":"pdi","type":"quantitative","scale":{"domain":[0.22,62.95],"nice":false,"zero":false},"axis":{"orient":"right","values":[1,61],"labelFlush":5,"title":null}}}},
  {"data":{"name":"bars"},"mark":{"type":"line","color":"#ff0000","strokeWidth":1},
   "encoding":{
    "x":{"field":"i","type":"quantitative","scale":{"domain":[-0.0625,119.6875],"nice":false,"zero":false},
     "axis":{"orient":"bottom","values":[0,8,16,24,32,40,48,56,64,72,80,88,96,104,112],"labelExpr":"['22 Oct 2015','23 Oct 12:00','26 Oct 20:00','28 Oct 04:00','29 Oct 12:00','30 Oct 20:00','3 Nov 04:00','4 Nov 12:00','5 Nov 20:00','9 Nov 04:00','10 Nov 12:00','11 Nov 20:00','13 Nov 04:00','16 Nov 12:00','17 Nov 20:00'][round(datum.value/8)]","labelAlign":"left","labelFlush":false,"tickSize":4,"labelPadding":1,"labelOverlap":false,"title":null}},
    "y":{"field":"adx","type":"quantitative","scale":{"domain":[0.22,62.95],"nice":false,"zero":false},"axis":{"orient":"right","values":[1,61],"labelFlush":5,"title":null}}}},
  {"data":{"values":[{"t":"ADX(14) 35.8575 +DI:22.3104 -DI:8.9623"}]},"mark":{"type":"text","align":"left","baseline":"middle","fontSize":9.5,"color":"#000080"},
   "encoding":{
    "x":{"datum":0.45,"type":"quantitative","scale":{"domain":[-0.0625,119.6875],"nice":false,"zero":false},
     "axis":{"orient":"bottom","values":[0,8,16,24,32,40,48,56,64,72,80,88,96,104,112],"labelExpr":"['22 Oct 2015','23 Oct 12:00','26 Oct 20:00','28 Oct 04:00','29 Oct 12:00','30 Oct 20:00','3 Nov 04:00','4 Nov 12:00','5 Nov 20:00','9 Nov 04:00','10 Nov 12:00','11 Nov 20:00','13 Nov 04:00','16 Nov 12:00','17 Nov 20:00'][round(datum.value/8)]","labelAlign":"left","labelFlush":false,"tickSize":4,"labelPadding":1,"labelOverlap":false,"title":null}},
    "y":{"datum":57.9,"type":"quantitative","scale":{"domain":[0.22,62.95],"nice":false,"zero":false},"axis":{"orient":"right","values":[1,61],"labelFlush":5,"title":null}},
    "text":{"field":"t"}}}
 ]}
]
}
